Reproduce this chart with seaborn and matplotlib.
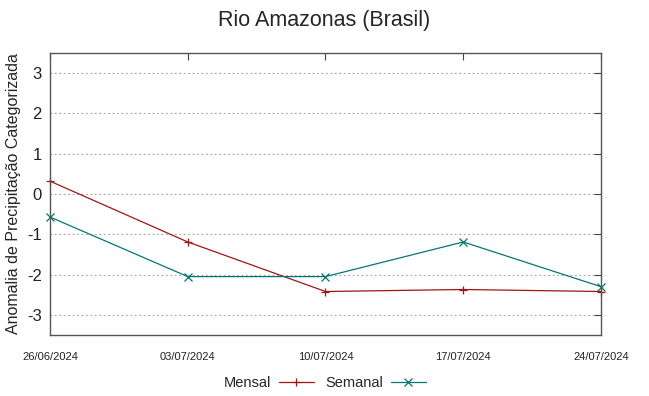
import pandas as pd
import matplotlib
matplotlib.use("Agg")
import matplotlib.pyplot as plt
import matplotlib.dates as mdates
import seaborn as sns

# Data
dates = ["2024-06-26", "2024-07-03", "2024-07-10", "2024-07-17", "2024-07-24"]
mensal = [0.32, -1.19, -2.42, -2.37, -2.42]
semanal = [-0.57, -2.05, -2.05, -1.19, -2.30]
y_ticks = [-3, -2, -1, 0, 1, 2, 3]

df = pd.DataFrame({
    "Data": pd.to_datetime(dates * 2),
    "Valor": mensal + semanal,
    "Serie": ["Mensal"] * len(dates) + ["Semanal"] * len(dates),
})

sns.set_style("white")
plt.rcParams["font.family"] = ["Liberation Sans", "DejaVu Sans"]
plt.rcParams["axes.unicode_minus"] = False

fig = plt.figure(figsize=(6.49, 3.96), dpi=100)
ax = fig.add_axes([0.077, 0.154, 0.849, 0.712])

colors = {"Mensal": "#a01515", "Semanal": "#077575"}
markers = {"Mensal": "+", "Semanal": "x"}
for name in ["Mensal", "Semanal"]:
    sub = df[df["Serie"] == name]
    sns.lineplot(data=sub, x="Data", y="Valor", color=colors[name], marker=markers[name],
                 markersize=5.5, markeredgewidth=0.9, markeredgecolor=colors[name],
                 linewidth=0.9, label=name, clip_on=False, ax=ax)

ax.set_xlim(pd.Timestamp(dates[0]), pd.Timestamp(dates[-1]))
ax.set_ylim(-3.5, 3.5)
ax.set_yticks(y_ticks)
ax.set_xticks(pd.to_datetime(dates))
ax.xaxis.set_major_formatter(mdates.DateFormatter("%d/%m/%Y"))
ax.tick_params(axis="x", labelsize=8, pad=12, direction="in", length=5, top=True, colors="#444444", labelcolor="#222222")
ax.tick_params(axis="y", labelsize=12, pad=6, direction="in", length=5, right=True, colors="#444444", labelcolor="#222222")
ax.yaxis.grid(True, linestyle=(0, (1.5, 2.5)), color="#a0a0a0", linewidth=0.8)
ax.set_axisbelow(True)
for s in ax.spines.values():
    s.set_color("#555555")
    s.set_linewidth(1.0)

ax.set_xlabel("")
ax.set_ylabel("Anomalia de Precipitação Categorizada", fontsize=11.5, labelpad=4)
fig.suptitle("Rio Amazonas (Brasil)", fontsize=15.5, y=0.975)

ax.legend(loc="center", ncol=2, frameon=False, markerfirst=False, fontsize=10.5, handlelength=2.4,
          columnspacing=0.8, handletextpad=0.5)
legend = ax.get_legend()
legend.set_bbox_to_anchor((325 / 649, 1 - 383 / 396), transform=fig.transFigure)

fig.savefig("out.png", dpi=100)
